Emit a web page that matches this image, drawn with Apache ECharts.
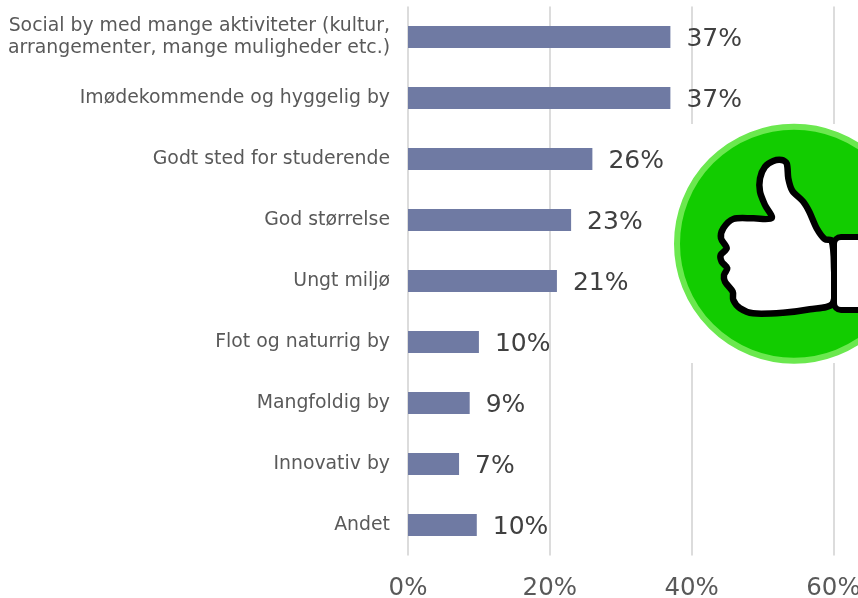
<!DOCTYPE html>
<html>
<head>
<meta charset="utf-8">
<style>html,body{margin:0;padding:0;background:#fff;overflow:hidden}#c{width:858px;height:598px}</style>
<script src="https://cdn.jsdelivr.net/npm/echarts@6/dist/echarts.min.js"></script>
</head>
<body>
<div id="c"></div>
<script>
const categories = [
  "Social by med mange aktiviteter (kultur,\narrangementer, mange muligheder etc.)",
  "Imødekommende og hyggelig by",
  "Godt sted for studerende",
  "God størrelse",
  "Ungt miljø",
  "Flot og naturrig by",
  "Mangfoldig by",
  "Innovativ by",
  "Andet"
];
const values = [37, 37, 26, 23, 21, 10, 8.7, 7.2, 9.7];
const tickValues = { min: 0, max: 60, interval: 20 };

const FONT = '"DejaVu Sans", Verdana, sans-serif';
const thumbPoints = [
  [771.7,218],[765,205],[760,191.7],[760,178.3],[765,166.7],[773.3,161],[781.7,160],[786.7,163.3],
  [788.3,178.3],[792.3,190.7],[803.3,201.7],[809.3,211.7],[816.7,228.3],[825,239.3],[831.7,240.7],
  [834,266.7],[832.7,303.3],[810,309.3],[783,312.7],[753,313.3],[740,308.3],[733.3,300],[732.7,291.7],
  [725,281.7],[724,275],[727.3,268.3],[721.7,261.7],[720.7,255],[726.7,248.3],[721,238.3],[723.3,228.3],
  [733.3,219],[753.3,218.3]
];

const chart = echarts.init(document.getElementById('c'), null, { renderer: 'canvas' });
chart.setOption({
  animation: false,
  backgroundColor: '#fff',
  grid: { left: 408, top: 6.5, width: 425.5, height: 549, containLabel: false, outerBoundsMode: 'none' },
  xAxis: {
    type: 'value', min: tickValues.min, max: tickValues.max, interval: tickValues.interval,
    axisLine: { show: false }, axisTick: { show: false },
    splitLine: { show: true, lineStyle: { color: '#dcdcdc', width: 2 } },
    axisLabel: { formatter: '{value}%', color: '#595959', fontFamily: FONT, fontSize: 24.5, margin: 21, hideOverlap: false }
  },
  yAxis: {
    type: 'category', inverse: true, data: categories,
    axisLine: { show: false }, axisTick: { show: false }, splitLine: { show: false },
    axisLabel: { color: '#595959', fontFamily: FONT, fontSize: 18.85, lineHeight: 22, margin: 18, align: 'right', interval: 0 }
  },
  series: [{
    type: 'bar', data: values, barWidth: 22,
    itemStyle: { color: '#6f7aa3' },
    label: {
      show: true, position: 'right', distance: 17, color: '#404040',
      fontFamily: FONT, fontSize: 25, offset: [-1, 2],
      formatter: p => Math.round(p.value) + '%'
    }
  }],
  graphic: [
    { type: 'rect', z: 10, shape: { x: 674, y: 124, width: 184, height: 239 }, style: { fill: '#fff' } },
    { type: 'circle', z: 11, shape: { cx: 794, cy: 243.7, r: 117 }, style: { fill: '#12cc00', stroke: '#6be84f', lineWidth: 6 } },
    { type: 'polygon', z: 12, shape: { points: thumbPoints, smooth: 0.3 }, style: { fill: '#fff', stroke: '#000', lineWidth: 6.5, lineJoin: 'round' } },
    { type: 'rect', z: 13, shape: { x: 834, y: 237, width: 60, height: 73, r: 7 }, style: { fill: '#fff', stroke: '#000', lineWidth: 6 } }
  ]
});
</script>
</body>
</html>
